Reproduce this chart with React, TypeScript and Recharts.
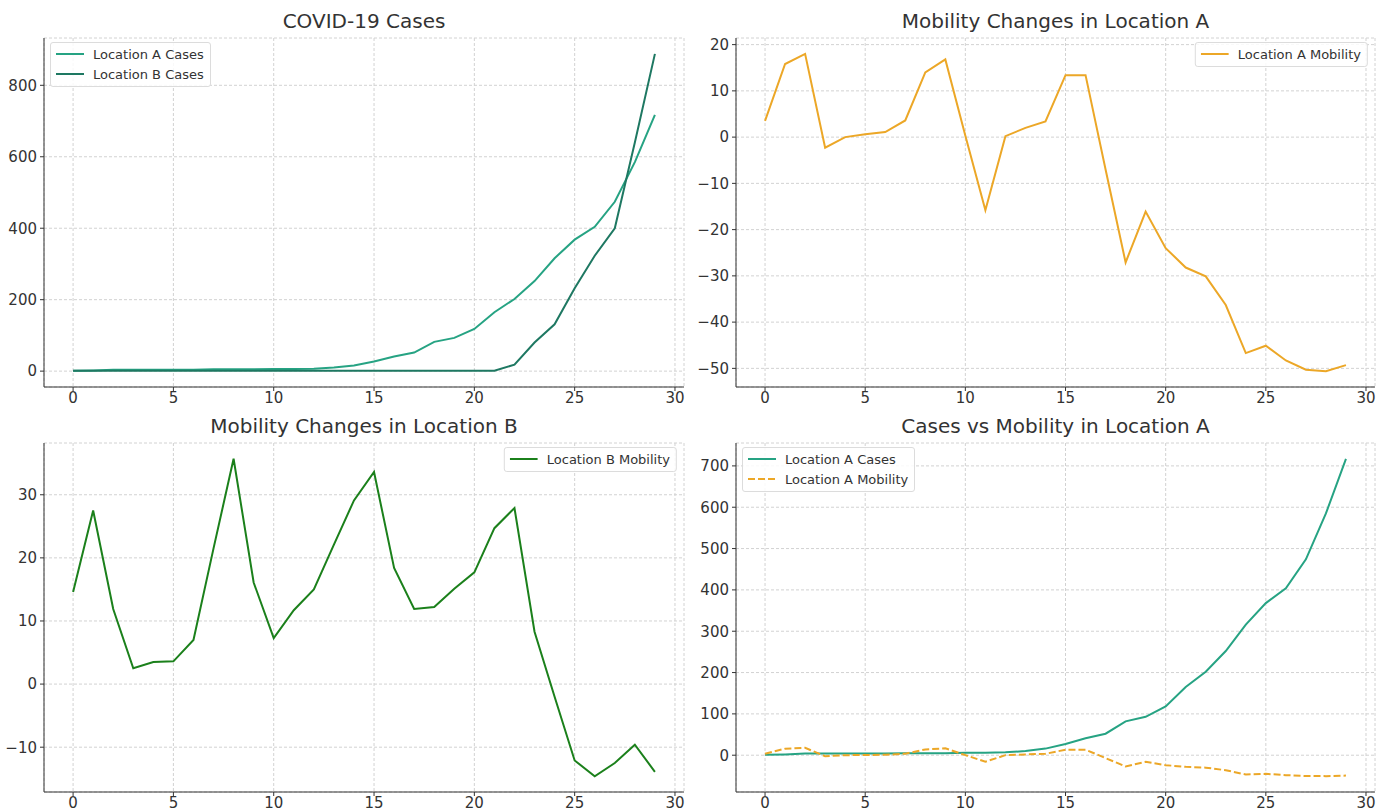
import React from 'react';
import { LineChart, Line, XAxis, YAxis, CartesianGrid } from 'recharts';

const days = [0, 1, 2, 3, 4, 5, 6, 7, 8, 9, 10, 11, 12, 13, 14, 15, 16, 17, 18, 19, 20, 21, 22, 23, 24, 25, 26, 27, 28, 29];
const casesA = [1, 2, 4, 4, 4, 4, 4, 5, 5, 5, 6, 6, 7, 10, 16, 27, 41, 52, 82, 93, 118, 165, 202, 252, 316, 368, 404, 474, 585, 717];
const casesB = [1, 1, 1, 1, 1, 1, 1, 1, 1, 1, 1, 1, 1, 1, 1, 1, 1, 1, 1, 1, 1, 1, 18, 80, 131, 232, 323, 400, 640, 888];
const mobilityA = [3.5, 15.8, 18.0, -2.3, 0, 0.6, 1.1, 3.6, 14.0, 16.8, 0.3, -15.8, 0.2, 2.0, 3.4, 13.4, 13.4, -7.0, -27.1, -16.1, -24.0, -28.2, -30.1, -36.3, -46.7, -45.1, -48.3, -50.3, -50.6, -49.3];
const mobilityB = [14.6, 27.5, 11.9, 2.5, 3.5, 3.6, 7.0, 21.5, 35.7, 16.1, 7.3, 11.7, 15.0, 22.1, 29.1, 33.6, 18.4, 11.9, 12.2, 15.1, 17.7, 24.7, 27.9, 8.3, -2.0, -12.1, -14.6, -12.5, -9.6, -13.9];

const xTicks = [0, 5, 10, 15, 20, 25, 30];
const casesTicks = [0, 200, 400, 600, 800];
const mobilityATicks = [-50, -40, -30, -20, -10, 0, 10, 20];
const mobilityBTicks = [-10, 0, 10, 20, 30];
const comboTicks = [0, 100, 200, 300, 400, 500, 600, 700];

const rows = days.map((d, i) => ({
  day: d,
  casesA: casesA[i],
  casesB: casesB[i],
  mobilityA: mobilityA[i],
  mobilityB: mobilityB[i],
}));

const FONT = '"DejaVu Sans", sans-serif';
const TEAL = '#26a383';
const DARK_TEAL = '#1e7862';
const ORANGE = '#eca727';
const GREEN = '#1b801b';

// matplotlib prints a real minus sign
const fmt = (v: number) => String(v).replace('-', '\u2212');

type Series = { key: string; name: string; color: string; dash?: string };

type PanelProps = {
  title: string;
  x0: number;
  y0: number;
  x1: number;
  y1: number;
  yDomain: [number, number];
  yTicks: number[];
  series: Series[];
  legendSide: 'left' | 'right';
};

const PAD_L = 50;
const PAD_T = 10;
const PAD_R = 12;
const PAD_B = 26;

function Panel({ title, x0, y0, x1, y1, yDomain, yTicks, series, legendSide }: PanelProps) {
  const w = x1 - x0 + PAD_L + PAD_R;
  const h = y1 - y0 + PAD_T + PAD_B;
  const tick = { fontSize: 15, fill: '#333', fontFamily: FONT };
  const legendPos: React.CSSProperties =
    legendSide === 'left' ? { left: x0 + 6 } : { left: x1 - 7, transform: 'translateX(-100%)' };

  return (
    <>
      <div
        style={{
          position: 'absolute',
          left: x0,
          width: x1 - x0,
          top: y0 - 29,
          textAlign: 'center',
          fontFamily: FONT,
          fontSize: 20,
          color: '#333',
          lineHeight: '24px',
        }}
      >
        {title}
      </div>
      <div style={{ position: 'absolute', left: x0 - PAD_L, top: y0 - PAD_T }}>
        <LineChart width={w} height={h} data={rows} margin={{ top: PAD_T, right: PAD_R, bottom: 2, left: 0 }}>
          <CartesianGrid stroke="#d2d2d2" strokeDasharray="3 2" />
          <XAxis
            dataKey="day"
            type="number"
            domain={[-1.45, 30.45]}
            ticks={xTicks}
            height={PAD_B - 2}
            tick={tick}
            tickSize={4}
            tickMargin={1}
            axisLine={{ stroke: '#333' }}
            tickLine={{ stroke: '#333' }}
          />
          <YAxis
            type="number"
            domain={yDomain}
            ticks={yTicks}
            width={PAD_L}
            tick={tick}
            tickFormatter={fmt}
            tickSize={4}
            tickMargin={3}
            axisLine={{ stroke: '#333' }}
            tickLine={{ stroke: '#333' }}
          />
          {series.map((s) => (
            <Line
              key={s.key}
              dataKey={s.key}
              name={s.name}
              type="linear"
              stroke={s.color}
              strokeWidth={2}
              strokeDasharray={s.dash}
              dot={false}
              isAnimationActive={false}
            />
          ))}
        </LineChart>
      </div>
      <div
        style={{
          position: 'absolute',
          top: y0 + 4,
          ...legendPos,
          background: 'rgba(255,255,255,0.85)',
          border: '1px solid #dcdcdc',
          borderRadius: 3,
          padding: '1px 6px 2px 5px',
          fontFamily: FONT,
          fontSize: 13,
          color: '#333',
        }}
      >
        {series.map((s) => (
          <div key={s.key} style={{ display: 'flex', alignItems: 'center', height: 20, whiteSpace: 'nowrap' }}>
            <svg width={28} height={6} style={{ marginRight: 9 }}>
              <line x1={0} y1={3} x2={28} y2={3} stroke={s.color} strokeWidth={2} strokeDasharray={s.dash} />
            </svg>
            {s.name}
          </div>
        ))}
      </div>
    </>
  );
}

export default function App() {
  return (
    <div style={{ position: 'absolute', left: 0, top: 0, width: 1388, height: 810, background: '#fff' }}>
      <Panel
        title="COVID-19 Cases"
        x0={44}
        y0={38}
        x1={684}
        y1={387}
        yDomain={[-44.4, 932.4]}
        yTicks={casesTicks}
        legendSide="left"
        series={[
          { key: 'casesA', name: 'Location A Cases', color: TEAL },
          { key: 'casesB', name: 'Location B Cases', color: DARK_TEAL },
        ]}
      />
      <Panel
        title="Mobility Changes in Location A"
        x0={736}
        y0={38}
        x1={1375}
        y1={387}
        yDomain={[-54.03, 21.43]}
        yTicks={mobilityATicks}
        legendSide="right"
        series={[{ key: 'mobilityA', name: 'Location A Mobility', color: ORANGE }]}
      />
      <Panel
        title="Mobility Changes in Location B"
        x0={44}
        y0={443}
        x1={684}
        y1={792}
        yDomain={[-17.1, 38.2]}
        yTicks={mobilityBTicks}
        legendSide="right"
        series={[{ key: 'mobilityB', name: 'Location B Mobility', color: GREEN }]}
      />
      <Panel
        title="Cases vs Mobility in Location A"
        x0={736}
        y0={443}
        x1={1375}
        y1={792}
        yDomain={[-89, 755.4]}
        yTicks={comboTicks}
        legendSide="left"
        series={[
          { key: 'casesA', name: 'Location A Cases', color: TEAL },
          { key: 'mobilityA', name: 'Location A Mobility', color: ORANGE, dash: '7 3' },
        ]}
      />
    </div>
  );
}
